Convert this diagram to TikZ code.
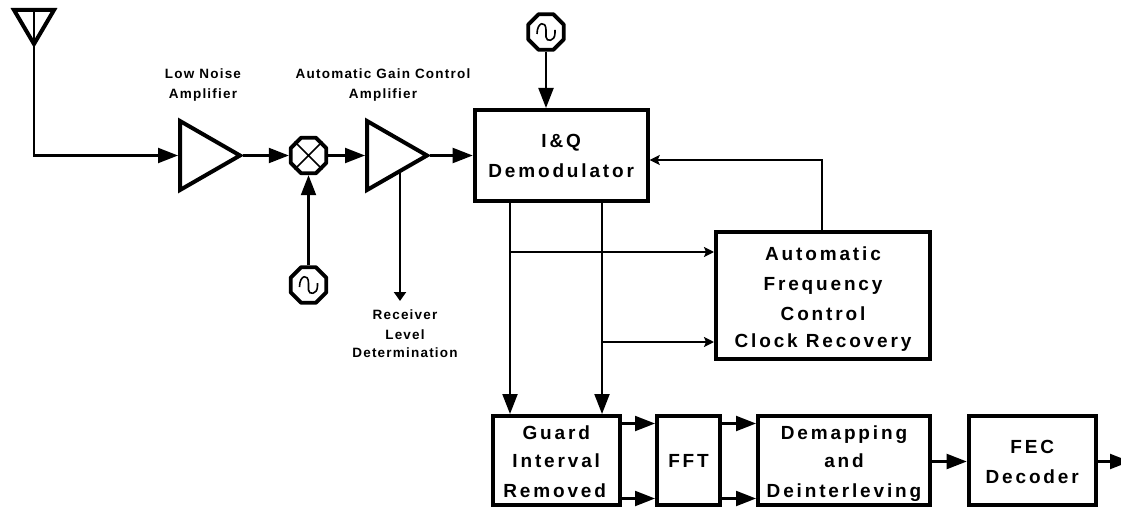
\documentclass[tikz,border=0pt]{standalone}
\usepackage{fontspec}
\setmainfont{Liberation Sans}
\newfontfamily\boxfont[LetterSpace=15]{Liberation Sans}
\newfontfamily\capfont[LetterSpace=9]{Liberation Sans}
\usetikzlibrary{arrows.meta,calc,shapes.geometric}
\newcommand{\toph}[1]{\rule{0pt}{#1pt}}
\tikzset{
  x=1pt,y=-1pt,
  thickbox/.style={draw,line width=4pt,line join=miter,rectangle,inner sep=0pt,anchor=north west,align=center,font=\boxfont\bfseries\fontsize{19}{30}\selectfont},
  amp/.style={draw,line width=4pt,line join=miter},
  wire/.style={line width=2.1pt},
  big/.style={wire,-{Triangle[length=20pt,width=15pt]}},
  smalltip/.style={wire,-{Stealth[length=10pt,width=10pt,inset=2pt]}},
  flattip/.style={wire,-{Triangle[length=9pt,width=12pt]}},
  capt/.style={font=\capfont\bfseries\fontsize{13.5}{20}\selectfont,align=center,inner sep=0pt},
  octa/.style={draw,line width=3.8pt,line join=round,regular polygon,regular polygon sides=8,minimum size=38.5pt,inner sep=0pt,outer sep=1.9pt},
  sine/.style={line width=1.6pt,line join=round},
}
\newcommand{\sinewave}[1]{\draw[sine] ($(#1)+(-9,2)$) .. controls ($(#1)+(-9,-10)$) and ($(#1)+(0,-12)$) .. ($(#1)+(0,-2)$) -- ($(#1)+(0,5)$) .. controls ($(#1)+(0,10)$) and ($(#1)+(9,10)$) .. ($(#1)+(9,1)$) -- ($(#1)+(9,-2)$);}
\begin{document}
\begin{tikzpicture}
\clip (0,0) rectangle (1121,508);
% antenna
\coordinate (atip) at (34,44);
\coordinate (atop) at (34,10);
\draw[amp] (14,10) -- (54,10) -- (atip) -- cycle;
\draw[wire] (atop) -- (atip);
% amplifiers
\draw[amp] (180,121) -- (180,190) -- (240,155.5) -- cycle;
\coordinate (lnain) at (178,155.5); \coordinate (lnaout) at (243,155.5);
\draw[amp] (367,121) -- (367,190) -- (427,155.5) -- cycle;
\coordinate (agcin) at (365,155.5); \coordinate (agcout) at (430,155.5);
\coordinate (agcb) at (400,171);
% mixer
\node[octa] (mix) at (308.5,155.5) {};
\draw[line width=1.6pt] (mix.45) -- (mix.225) (mix.135) -- (mix.315);
% oscillators
\node[octa] (osc1) at (308.5,285) {}; \sinewave{osc1}
\node[octa] (osc2) at (546,32) {}; \sinewave{osc2}
% boxes
\node[thickbox,minimum width=173pt,minimum height=91pt] (iq) at (472.7,108) {\toph{15}I\&Q\\Demodulator};
\node[thickbox,minimum width=214pt,minimum height=127pt] (afc) at (714,230) {\toph{20}Automatic\\Frequency\\Control\\[-3pt]Clock Recovery};
\node[thickbox,minimum width=127pt,minimum height=89pt] (gi) at (490.7,414) {\toph{16.5}Guard\\[-2pt]Interval\\[-0.5pt]Removed\kern3pt};
\node[thickbox,minimum width=63pt,minimum height=89pt] (fft) at (655,414) {\toph{14.4}FFT};
\node[thickbox,minimum width=172pt,minimum height=89pt] (dm) at (756,414) {\toph{20.5}Demapping\\[-2pt]and\\[-0.5pt]Deinterleving};
\node[thickbox,minimum width=127pt,minimum height=89pt] (fec) at (966.7,414) {\toph{17}FEC\\Decoder};
% wires
\coordinate (c1) at (34,155.5);
\draw[big] (atip) -- (c1) -- (lnain);
\draw[big] (lnaout) -- (mix.west);
\draw[big] (mix.east) -- (agcin);
\draw[big] (agcout) -- (iq.west |- agcout);
\draw[big] (osc1.north) -- (mix.south);
\draw[big] (osc2.south) -- (iq.north -| osc2.south);
\coordinate (rl) at (400,301);
\draw[flattip] (agcb) -- (rl);
\node[capt] (l1) at (203,85.5) {Low Noise\\Amplifier};
\node[capt] (l2) at (383,85.5) {Automatic Gain Control\\Amplifier};
\node[capt] (l3) at (405,334) {Receiver\\Level\\[-2pt]Determination};
\coordinate (d1) at (510,0); \coordinate (d2) at (602,0);
\draw[big] (iq.south -| d1) -- (gi.north -| d1);
\draw[big] (iq.south -| d2) -- (gi.north -| d2);
\coordinate (t1) at (510,252); \coordinate (t2) at (602,342);
\draw[smalltip] (t1) -- (afc.west |- t1);
\draw[smalltip] (t2) -- (afc.west |- t2);
\coordinate (fb) at (822,160);
\draw[smalltip] (afc.north -| fb) -- (fb) -- (iq.east |- fb);
\coordinate (r1) at (0,423.5); \coordinate (r2) at (0,498.5); \coordinate (r3) at (0,461.5);
\draw[big] (gi.east |- r1) -- (fft.west |- r1);
\draw[big] (gi.east |- r2) -- (fft.west |- r2);
\draw[big] (fft.east |- r1) -- (dm.west |- r1);
\draw[big] (fft.east |- r2) -- (dm.west |- r2);
\draw[big] (dm.east |- r3) -- (fec.west |- r3);
\coordinate (out) at (1130,461.5);
\draw[big] (fec.east |- r3) -- (out);
\end{tikzpicture}
\end{document}
